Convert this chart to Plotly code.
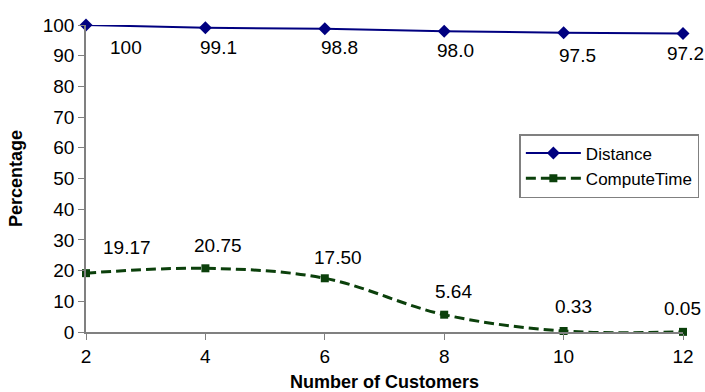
import plotly.graph_objects as go

customers = [2, 4, 6, 8, 10, 12]
distance = [100, 99.1, 98.8, 98.0, 97.5, 97.2]
compute_time = [19.17, 20.75, 17.50, 5.64, 0.33, 0.05]
distance_labels = ["100", "99.1", "98.8", "98.0", "97.5", "97.2"]
compute_labels = ["19.17", "20.75", "17.50", "5.64", "0.33", "0.05"]

FONT = "Liberation Sans, Arial, sans-serif"
LABEL_SIZE = 19

# label offsets (pixels) relative to each point
dist_dx = [40, 13, 15, 11, 14, 2]
dist_dy = [-22, -20, -19, -19, -23, -20]
comp_dx = [41, 13, 13, 9, 10, -1]
comp_dy = [26, 23, 21, 23, 24, 23]

fig = go.Figure()
fig.add_trace(go.Scatter(
    x=customers, y=distance, name="Distance", mode="lines+markers",
    line=dict(color="#000080", width=2),
    marker=dict(symbol="diamond", size=10, color="#000080"),
    cliponaxis=False,
))
fig.add_trace(go.Scatter(
    x=customers, y=compute_time, name="ComputeTime", mode="lines+markers",
    line=dict(color="#0b400b", width=3, dash="10px,5px", shape="spline", smoothing=1.0),
    marker=dict(symbol="square", size=8, color="#0b400b"),
    cliponaxis=False,
))

for x, y, t, dx, dy in zip(customers, distance, distance_labels, dist_dx, dist_dy):
    fig.add_annotation(x=x, y=y, text=t, showarrow=False, xshift=dx, yshift=dy,
                       font=dict(family=FONT, size=LABEL_SIZE, color="black"))
for x, y, t, dx, dy in zip(customers, compute_time, compute_labels, comp_dx, comp_dy):
    fig.add_annotation(x=x, y=y, text=t, showarrow=False, xshift=dx, yshift=dy,
                       font=dict(family=FONT, size=LABEL_SIZE, color="black"))

axis_common = dict(
    showgrid=False, zeroline=False, showline=True, linecolor="#808080", linewidth=1.5,
    ticks="outside", ticklen=6, tickcolor="#808080", automargin=False,
    tickfont=dict(family=FONT, size=19, color="black"),
)
fig.update_xaxes(range=[2, 12], tickvals=customers,
                 title=dict(text="<b>Number of Customers</b>",
                            font=dict(family=FONT, size=18, color="black")),
                 **axis_common)
fig.update_yaxes(range=[0, 100], dtick=10,
                 title=dict(text="<b>Percentage</b>",
                            font=dict(family=FONT, size=18, color="black")),
                 **axis_common)

fig.update_layout(
    width=705, height=392,
    margin=dict(l=86, r=22, t=25, b=60, autoexpand=False),
    paper_bgcolor="white", plot_bgcolor="white",
    showlegend=True,
    legend=dict(xref="container", yref="container", x=0.992, y=0.658,
                xanchor="right", yanchor="top", itemwidth=55,
                bordercolor="#808080", borderwidth=1.5, bgcolor="white",
                font=dict(family=FONT, size=17, color="black")),
)

fig.write_html("out.html")
